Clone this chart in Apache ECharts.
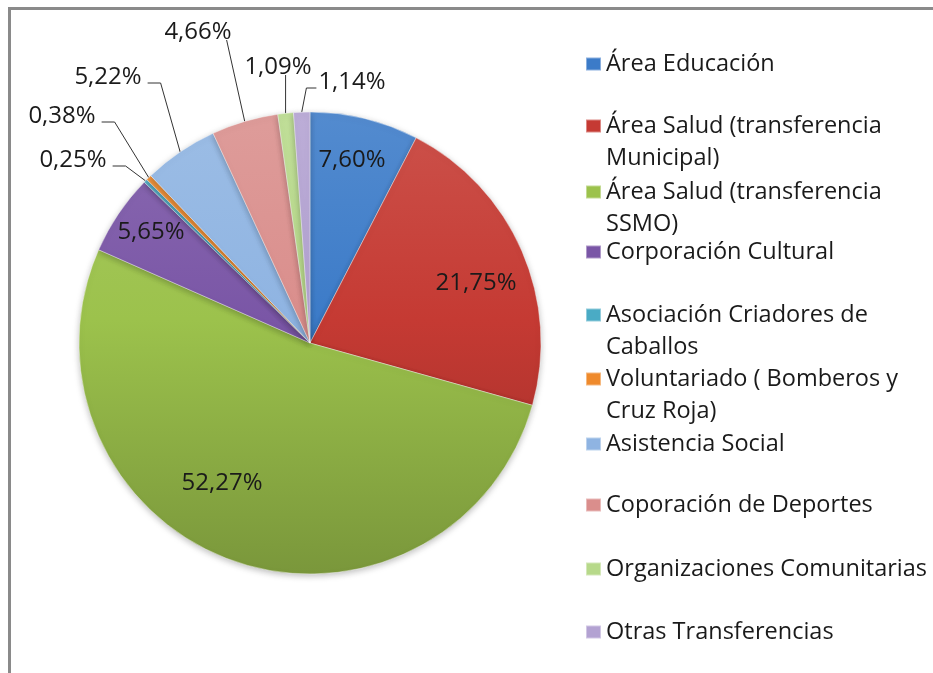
<!DOCTYPE html>
<html>
<head>
<meta charset="utf-8">
<script src="https://cdn.jsdelivr.net/npm/echarts@6/dist/echarts.min.js"></script>
<style>
html, body { margin: 0; padding: 0; background: #fff; overflow: hidden; }
#main { width: 933px; height: 673px; }
</style>
</head>
<body>
<div id="main"></div>
<script>
// datos del grafico
var categorias = ['Área Educación', 'Área Salud (transferencia Municipal)', 'Área Salud (transferencia SSMO)',
	'Corporación Cultural', 'Asociación Criadores de Caballos', 'Voluntariado ( Bomberos y Cruz Roja)',
	'Asistencia Social', 'Coporación de Deportes', 'Organizaciones Comunitarias', 'Otras Transferencias'];
var porcentajes = [7.60, 21.75, 52.27, 5.65, 0.25, 0.38, 5.22, 4.66, 1.09, 1.14];
var leyendaTexto = ['Área Educación', 'Área Salud (transferencia\nMunicipal)', 'Área Salud (transferencia\nSSMO)',
	'Corporación Cultural', 'Asociación Criadores de\nCaballos', 'Voluntariado ( Bomberos y\nCruz Roja)',
	'Asistencia Social', 'Coporación de Deportes', 'Organizaciones Comunitarias', 'Otras Transferencias'];

var colores = ['#3c7bc8', '#c53a33', '#9cc24c', '#7a56a6', '#4aabc5', '#ef8a2c', '#8fb4e2', '#da8e8c', '#b7d98a', '#b3a2d2'];
// donde va cada etiqueta (lado = por donde sale la linea guia)
var posEtiqueta = [
	{x: 352, y: 160}, {x: 476, y: 283}, {x: 222, y: 483}, {x: 151, y: 232},
	{x: 73, y: 160, lado: 'der'}, {x: 62, y: 116, lado: 'der'}, {x: 108, y: 77, lado: 'der'},
	{x: 198, y: 32, lado: 'abajo'}, {x: 278, y: 67, lado: 'abajo'}, {x: 352, y: 82, lado: 'izq'}
];
var leyendaY = [61, 123, 189, 249, 312, 376, 441, 502, 566, 629];

var fuente = '"Open Sans", "Noto Sans", sans-serif';
var myChart = echarts.init(document.getElementById('main'));

function mezcla(hex, otro, t) {
	var a = parseInt(hex.slice(1), 16), b = parseInt(otro.slice(1), 16);
	var r = Math.round(((a >> 16) & 255) * (1 - t) + ((b >> 16) & 255) * t);
	var g = Math.round(((a >> 8) & 255) * (1 - t) + ((b >> 8) & 255) * t);
	var bl = Math.round((a & 255) * (1 - t) + (b & 255) * t);
	return 'rgb(' + r + ',' + g + ',' + bl + ')';
}
// luz de arriba, sombra abajo (como el bisel de excel)
function relleno(c) {
	return new echarts.graphic.LinearGradient(0, 112, 0, 574, [
		{offset: 0, color: mezcla(c, '#ffffff', 0.12)},
		{offset: 0.45, color: c},
		{offset: 1, color: mezcla(c, '#000000', 0.22)}
	], true);
}

var datos = [];
for (var i = 0; i < categorias.length; i++) {
	datos.push({
		name: categorias[i],
		value: porcentajes[i],
		itemStyle: {color: relleno(colores[i])},
		labelLine: {show: !!posEtiqueta[i].lado}
	});
}

var leyendas = [];
for (var j = 0; j < categorias.length; j++) {
	var dosLineas = leyendaTexto[j].indexOf('\n') >= 0;
	leyendas.push({
		orient: 'vertical',
		left: 585,
		top: leyendaY[j] - (dosLineas ? 45 : 13),
		padding: 0,
		itemWidth: 15,
		itemHeight: 13,
		icon: 'rect',
		selectedMode: false,
		data: [categorias[j]],
		itemStyle: {color: colores[j]},
		formatter: (function (t, d) { return function () { return d ? ' \n' + t : t; }; })(leyendaTexto[j], dosLineas),
		textStyle: {
			fontFamily: fuente,
			fontSize: 23.5,
			lineHeight: 32,
			color: '#1a1a1a'
		}
	});
}

myChart.setOption({
	backgroundColor: '#fff',
	animation: false,
	legend: leyendas,
	// marco del grafico: solo arriba e izquierda
	graphic: [{
		type: 'line',
		silent: true,
		shape: {x1: 9.5, y1: 8.5, x2: 9.5, y2: 673},
		style: {stroke: '#8a8a8a', lineWidth: 3}
	}, {
		type: 'line',
		silent: true,
		shape: {x1: 8, y1: 8.5, x2: 933, y2: 8.5},
		style: {stroke: '#8a8a8a', lineWidth: 3}
	}],
	series: [{
		type: 'pie',
		center: [310, 343],
		radius: 231,
		startAngle: 90,
		clockwise: true,
		avoidLabelOverlap: false,
		itemStyle: {
			borderColor: 'rgba(255,255,255,0.4)',
			borderWidth: 1,
			shadowBlur: 6,
			shadowColor: 'rgba(0,0,0,0.25)',
			shadowOffsetY: 2
		},
		label: {
			show: true,
			position: 'outside',
			fontFamily: fuente,
			fontSize: 24,
			color: '#1a1a1a',
			formatter: function (p) {
				return p.value.toFixed(2).replace('.', ',') + '%';
			}
		},
		labelLine: {
			show: true,
			length: 10,
			length2: 10,
			lineStyle: {color: '#333', width: 1}
		},
		labelLayout: function (p) {
			var s = posEtiqueta[p.dataIndex];
			var w = p.labelRect.width, h = p.labelRect.height;
			var out = {x: s.x, y: s.y, align: 'center', verticalAlign: 'middle'};
			if (s.lado && p.labelLinePoints) {
				var borde = p.labelLinePoints[0];
				var a, b;
				if (s.lado === 'der') {
					a = [s.x + w / 2 + 6, s.y + 6];
					b = [a[0] + 13, a[1]];
				} else if (s.lado === 'izq') {
					a = [s.x - w / 2 - 2, s.y + 6];
					b = [a[0] - 10, a[1]];
				} else {
					var lx = Math.min(Math.max(borde[0], s.x - w / 2 + 6), s.x + w / 2 - 5);
					a = [lx, s.y + h / 2 - 4];
					b = a;
				}
				out.labelLinePoints = [borde, b, a];
			}
			return out;
		},
		data: datos
	}]
});
</script>
</body>
</html>
